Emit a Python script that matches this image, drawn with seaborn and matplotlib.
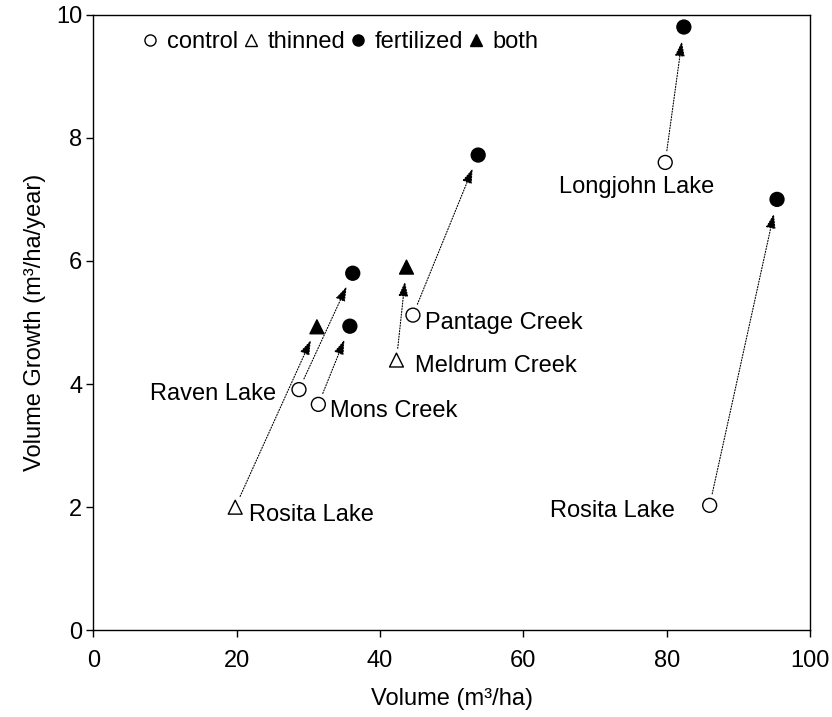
import matplotlib
matplotlib.use("Agg")
import matplotlib.pyplot as plt
from matplotlib.lines import Line2D
import pandas as pd
import seaborn as sns

# Stand measurements before and after treatment
sites = ["Rosita Lake", "Raven Lake", "Mons Creek", "Meldrum Creek",
         "Pantage Creek", "Longjohn Lake", "Rosita Lake"]
start_treatment = ["thinned", "control", "control", "thinned",
                   "control", "control", "control"]
start_volume = [19.8, 28.7, 31.4, 42.3, 44.6, 79.8, 86.0]
start_growth = [2.0, 3.91, 3.67, 4.39, 5.12, 7.6, 2.03]
end_treatment = ["both", "fertilized", "fertilized", "both",
                 "fertilized", "fertilized", "fertilized"]
end_volume = [31.2, 36.2, 35.8, 43.7, 53.7, 82.4, 95.4]
end_growth = [4.93, 5.8, 4.94, 5.9, 7.72, 9.8, 7.0]

treatments = ["control", "thinned", "fertilized", "both"]
x_ticks = [0, 20, 40, 60, 80, 100]
y_ticks = [0, 2, 4, 6, 8, 10]

# label placement (offset in points from the site's starting point, alignment)
label_offsets = [(9.6, -5.8, "left"), (-16.3, -2.9, "right"), (8.4, -5.0, "left"),
                 (13.0, -4.3, "left"), (8.9, -6.0, "left"), (-76.3, -18.0, "left"),
                 (-25.2, -4.3, "right")]

sns.set_style("ticks")
plt.rcParams["font.family"] = ["Liberation Sans", "DejaVu Sans"]
plt.rcParams["text.color"] = "black"
plt.rcParams["axes.labelcolor"] = "black"
FS = 17

fig = plt.figure(figsize=(8.32, 7.17), dpi=100)
ax = fig.add_axes([93.3 / 832, 1 - 630.3 / 717, (810 - 93.3) / 832, (630.3 - 14.7) / 717])

points = pd.DataFrame({
    "volume": start_volume + end_volume,
    "growth": start_growth + end_growth,
    "treatment": start_treatment + end_treatment,
})
marker_map = {"control": "o", "thinned": "^", "fertilized": "o", "both": "^"}
face_map = {"control": "white", "thinned": "white", "fertilized": "black", "both": "black"}

# dotted arrows from untreated/thinned state to the treated state
for x0, y0, x1, y1 in zip(start_volume, start_growth, end_volume, end_growth):
    ax.annotate("", xy=(x1, y1), xytext=(x0, y0),
                arrowprops=dict(arrowstyle="-|>,head_length=9,head_width=3",
                                mutation_scale=1, shrinkA=8.5, shrinkB=10.5,
                                linestyle=(0, (1, 1.5)), lw=0.8, color="black"),
                zorder=2)

sns.scatterplot(data=points, x="volume", y="growth", hue="treatment", style="treatment",
                hue_order=treatments, style_order=treatments, palette=face_map,
                markers=marker_map, s=100, edgecolor="black", linewidth=1.0,
                legend=False, ax=ax, zorder=3)

for name, x0, y0, (dx, dy, ha) in zip(sites, start_volume, start_growth, label_offsets):
    ax.annotate(name, xy=(x0, y0), xytext=(dx, dy), textcoords="offset points",
                ha=ha, va="center", fontsize=FS, color="black")

handles = [Line2D([], [], ls="", marker=marker_map[t], markerfacecolor=face_map[t],
                  markeredgecolor="black", markeredgewidth=1.0, markersize=8)
           for t in treatments]
ax.legend(handles, treatments, ncol=4, loc="center left", bbox_to_anchor=(0.0666, 0.956),
          frameon=False, handlelength=0.8, handletextpad=0.32, columnspacing=0.12,
          borderpad=0, borderaxespad=0, fontsize=FS, labelcolor="black")

ax.set_xlim(0, 100)
ax.set_ylim(0, 10)
ax.set_xticks(x_ticks)
ax.set_yticks(y_ticks)
ax.set_xlabel("Volume (m³/ha)", fontsize=FS, labelpad=12, color="black")
ax.set_ylabel("Volume Growth (m³/ha/year)", fontsize=FS, labelpad=7, color="black")
for side in ["top", "right", "bottom", "left"]:
    ax.spines[side].set_visible(True)
    ax.spines[side].set_linewidth(1.0)
    ax.spines[side].set_color("black")
ax.tick_params(axis="both", direction="out", length=5, width=1.0, labelsize=FS,
               colors="black", labelcolor="black")
ax.tick_params(axis="x", pad=9)
ax.tick_params(axis="y", pad=3)

fig.savefig("out.png", dpi=100)
